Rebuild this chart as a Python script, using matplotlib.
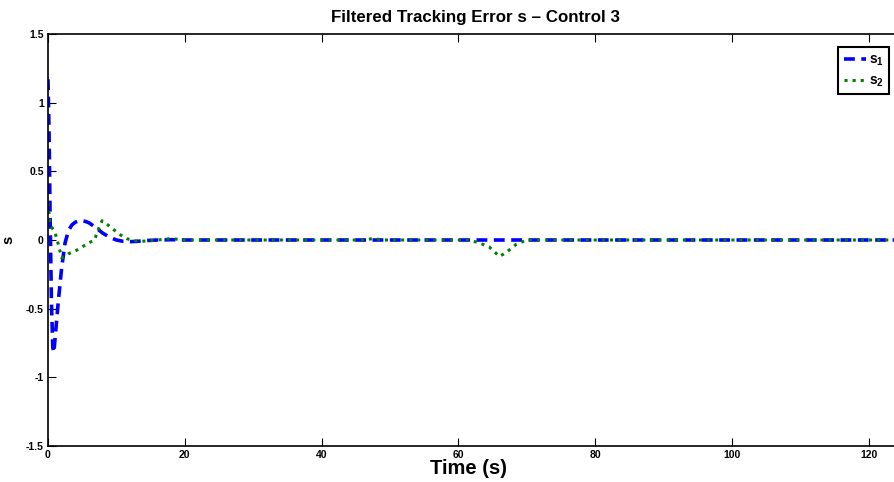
import numpy as np
import matplotlib.pyplot as plt

plt.rcParams['font.family'] = ['Liberation Sans', 'DejaVu Sans']
plt.rcParams['font.weight'] = 'bold'
plt.rcParams['axes.unicode_minus'] = False
plt.rcParams['mathtext.fontset'] = 'custom'
plt.rcParams['mathtext.rm'] = 'Liberation Sans:bold'
plt.rcParams['mathtext.it'] = 'Liberation Sans:bold'
plt.rcParams['mathtext.bf'] = 'Liberation Sans:bold'

# --- data ---
t_s1 = [0, 0.15, 0.3, 0.5, 0.7, 0.85, 1.1, 1.5, 2.0, 2.5, 3.0, 3.5, 4.0, 4.5,
        5.0, 5.5, 6.0, 7.0, 8.0, 9.0, 10.0, 11.0, 12.0, 13.0, 14.0, 16.0, 18.0,
        20.0, 125.0]
s1 = [1.17, 0.8, 0.2, -0.45, -0.78, -0.82, -0.68, -0.45, -0.2, -0.02, 0.07,
      0.11, 0.13, 0.14, 0.14, 0.135, 0.125, 0.09, 0.05, 0.02, 0.0, -0.01,
      -0.012, -0.01, -0.005, 0.0, 0.002, 0.0, 0.0]

t_s2 = [0, 0.3, 0.7, 1.0, 1.5, 2.0, 2.5, 3.0, 4.0, 5.0, 6.0, 6.8, 7.3, 7.9,
        8.5, 9.5, 10.5, 11.5, 12.5, 13.5, 15, 17, 18, 19, 20, 22, 46, 47.5, 49,
        61.5, 63, 64.5, 66, 67, 68.5, 70, 80, 110, 125]
s2 = [0.27, 0.12, 0.08, 0.06, -0.03, -0.13, -0.12, -0.10, -0.08, -0.05, -0.02,
      0.0, 0.07, 0.14, 0.12, 0.08, 0.04, 0.01, -0.005, -0.01, -0.005, 0.005,
      0.01, 0.005, 0.0, 0.0, 0.0, 0.01, 0.0, 0.0, -0.02, -0.05, -0.12, -0.09,
      -0.03, 0.0, 0.0, 0.0, 0.0]

x_ticks = [0, 20, 40, 60, 80, 100, 120]
y_ticks = [-1.5, -1, -0.5, 0, 0.5, 1, 1.5]
y_labels = ['-1.5', '-1', '-0.5', '0', '0.5', '1', '1.5']

fig = plt.figure(figsize=(8.95, 4.82), dpi=100)
ax = fig.add_axes([48 / 895, 1 - 446 / 482, 855 / 895, 412 / 482])

ax.plot(t_s1, s1, color=(0, 0, 1), linestyle='--', linewidth=2.6,
        dashes=(3.0, 1.8), label=r'$s_1$')
ax.plot(t_s2, s2, color=(0, 0.5, 0), linestyle=':', linewidth=2.2,
        label=r'$s_2$')

ax.set_xlim(0, 125)
ax.set_ylim(-1.5, 1.5)
ax.set_xticks(x_ticks)
ax.set_yticks(y_ticks)
ax.set_yticklabels(y_labels)
ax.tick_params(direction='in', length=6, width=0.8, labelsize=7.5,
               top=True, right=True, pad=3)
for sp in ax.spines.values():
    sp.set_linewidth(1.2)

ax.set_title('Filtered Tracking Error s – Control 3', fontsize=12.2,
             fontweight='bold', pad=9)
ax.set_xlabel('Time (s)', fontsize=14.5, fontweight='bold')
ax.xaxis.set_label_coords(421 / 855, -13 / 412)
ax.set_ylabel('s', fontsize=10.5, fontweight='bold', rotation=90)
ax.yaxis.set_label_coords(-33 / 855, 0.5)

leg = ax.legend(loc='upper left', bbox_to_anchor=(838 / 895, 1 - 47 / 482),
                bbox_transform=fig.transFigure, fancybox=False, framealpha=1,
                edgecolor='k', handlelength=1.6, handletextpad=0.2,
                borderpad=0.4, labelspacing=0.4, fontsize=10,
                borderaxespad=0)
leg.get_frame().set_linewidth(1.5)

fig.savefig('out.png', dpi=100)
